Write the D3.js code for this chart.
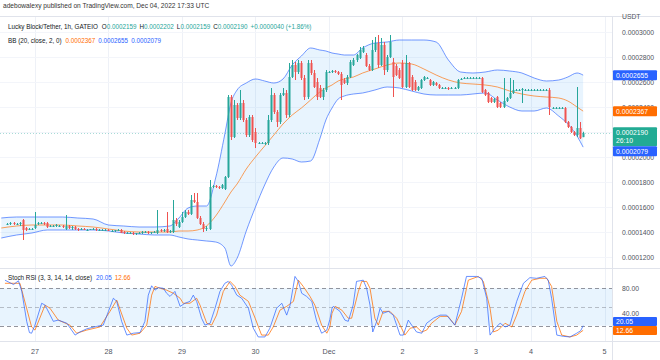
<!DOCTYPE html>
<html><head><meta charset="utf-8">
<script src="https://cdn.jsdelivr.net/npm/d3@7"></script>
<style>
html,body{margin:0;padding:0;background:#fff;}
svg{display:block;font-family:"Liberation Sans",Arial,sans-serif;}
</style></head><body>
<svg id="c" width="660" height="360"></svg>
<script>
// ---- DATA (prices in units of 1e-7 USDT) ----
const open = [
1464,1464,1472,1464,1464,1496,1432,1424,1424,1432,
1464,1472,1472,1472,1448,1448,1448,1448,1448,1424,
1448,1432,1440,1424,1424,1424,1416,1416,1424,1424,
1416,1416,1416,1416,1408,1408,1416,1416,1400,1392,
1392,1392,1384,1392,1392,1400,1400,1392,1400,1392,
1416,1408,1424,1400,1400,1496,1440,1480,1520,1560,
1544,1656,1640,1512,1464,1424,1424,1760,1768,1760,
1752,1744,1840,2480,2160,2416,2312,2432,2296,2176,
2320,2200,2112,2112,2112,2112,2296,2496,2360,2280,
2496,2512,2336,2640,2736,2680,2752,2632,2480,2752,
2672,2600,2552,2480,2536,2680,2680,2688,2680,2664,
2616,2592,2640,2736,2776,2792,2840,2816,2728,2696,
2856,2912,2736,2896,2696,2800,2760,2728,2696,2752,
2560,2752,2640,2600,2536,2552,2616,2632,2616,2576,
2592,2576,2552,2552,2552,2552,2552,2552,2624,2632,
2632,2632,2632,2632,2632,2632,2536,2512,2472,2440,
2480,2432,2400,2448,2472,2512,2536,2536,2536,2536,
2536,2536,2536,2536,2536,2536,2536,2536,2392,2392,
2392,2392,2392,2280,2240,2200,2176,2232,2159];
const high = [
1472,1480,1480,1472,1480,1504,1440,1432,1432,1560,
1480,1480,1480,1480,1456,1456,1464,1456,1456,1536,
1456,1448,1448,1432,1432,1432,1424,1424,1432,1432,
1424,1424,1424,1424,1416,1416,1424,1424,1408,1400,
1400,1400,1392,1400,1408,1408,1408,1400,1408,1576,
1424,1424,1560,1416,1656,1512,1496,1560,1576,1576,
1696,1712,1712,1528,1480,1448,1816,1776,1776,1768,
1784,1848,2496,2496,2456,2432,2536,2456,2312,2336,
2336,2232,2120,2120,2120,2336,2552,2512,2376,2512,
2552,2536,2752,2776,2760,2776,2768,2656,2776,2776,
2696,2632,2576,2552,2696,2688,2696,2696,2688,2680,
2632,2656,2776,2792,2824,2880,2888,2832,2744,2936,
2960,2976,2952,2920,2816,2976,2792,2744,2712,2776,
2816,2760,2656,2616,2568,2624,2648,2640,2624,2608,
2600,2584,2560,2560,2560,2560,2560,2624,2632,2640,
2640,2640,2640,2640,2640,2640,2544,2520,2480,2472,
2488,2440,2632,2480,2632,2616,2544,2544,2552,2544,
2544,2544,2544,2544,2544,2544,2544,2552,2400,2400,
2400,2400,2400,2288,2248,2208,2560,2280,2202];
const low = [
1456,1456,1456,1456,1448,1336,1408,1416,1416,1424,
1456,1464,1456,1432,1440,1440,1440,1440,1432,1416,
1424,1416,1416,1408,1416,1416,1408,1416,1416,1408,
1408,1416,1408,1408,1400,1400,1408,1392,1384,1384,
1384,1376,1376,1384,1384,1392,1384,1384,1392,1384,
1400,1400,1392,1392,1392,1448,1432,1472,1512,1536,
1536,1632,1504,1456,1400,1408,1416,1752,1752,1744,
1744,1736,1832,2136,2152,2296,2296,2280,2160,2160,
2120,2072,2104,2104,2096,2096,2280,2344,2240,2264,
2488,2312,2320,2632,2616,2664,2616,2456,2464,2656,
2552,2456,2472,2456,2520,2672,2672,2672,2656,2456,
2584,2576,2632,2728,2760,2784,2832,2720,2688,2688,
2840,2712,2728,2656,2680,2792,2480,2648,2624,2552,
2552,2552,2528,2528,2528,2544,2608,2624,2568,2568,
2568,2544,2544,2544,2536,2544,2544,2544,2616,2624,
2624,2624,2624,2624,2624,2512,2488,2432,2432,2432,
2392,2392,2392,2440,2464,2504,2528,2528,2432,2528,
2528,2528,2528,2528,2528,2528,2528,2336,2384,2384,
2384,2384,2272,2232,2192,2168,2160,2144,2159];
const close = [
1464,1472,1464,1464,1472,1416,1416,1424,1424,1456,
1472,1472,1464,1440,1448,1448,1456,1448,1440,1448,
1432,1440,1424,1416,1424,1416,1416,1424,1424,1416,
1416,1416,1416,1408,1408,1416,1416,1392,1392,1392,
1392,1384,1392,1392,1400,1400,1392,1400,1400,1416,
1408,1416,1400,1408,1496,1464,1480,1520,1560,1544,
1656,1640,1512,1464,1424,1432,1760,1768,1760,1752,
1776,1840,2480,2160,2416,2312,2432,2296,2176,2320,
2136,2112,2112,2112,2112,2296,2496,2360,2280,2496,
2512,2336,2640,2736,2680,2752,2632,2480,2752,2672,
2560,2480,2480,2536,2680,2680,2688,2680,2664,2576,
2592,2640,2760,2776,2816,2856,2872,2728,2696,2856,
2912,2736,2896,2696,2800,2920,2640,2656,2632,2560,
2752,2560,2536,2536,2560,2616,2640,2632,2576,2600,
2576,2552,2552,2552,2544,2552,2552,2616,2624,2632,
2632,2632,2632,2632,2632,2520,2496,2440,2440,2464,
2400,2400,2448,2472,2512,2536,2536,2536,2544,2536,
2536,2536,2536,2536,2536,2536,2536,2400,2392,2392,
2392,2392,2280,2240,2200,2176,2232,2150,2190];

// Bollinger Bands (20, close, 2) read at sampled candle indices
const bbIdx   = [-2,3,8,13,18,23,28,33,38,43,48,53,56,59,62,65,68,71,73,75,78,81,84,87,90,93,96,99,102,104,106,108,110,113,116,120,124,128,132,136,140,144,148,152,156,160,164,168,172,176,180,183,186,188];
const bbUpper = [1512,1520,1520,1520,1520,1512,1504,1456,1448,1440,1440,1448,1512,1592,1608,1608,1832,2184,2432,2536,2592,2624,2608,2592,2624,2736,2808,2872,2856,2848,2832,2824,2816,2816,2872,2912,2920,2936,2936,2936,2920,2776,2680,2672,2680,2696,2688,2672,2632,2608,2616,2640,2672,2655];
const bbBasis = [1432,1448,1456,1456,1456,1448,1440,1424,1408,1400,1400,1400,1408,1408,1416,1448,1528,1640,1720,1784,1904,2000,2088,2176,2264,2336,2392,2456,2520,2552,2576,2608,2624,2640,2672,2704,2736,2752,2744,2704,2656,2616,2592,2584,2576,2560,2528,2504,2488,2480,2472,2448,2400,2367];
const bbLower = [1352,1376,1392,1416,1416,1416,1416,1408,1392,1384,1376,1376,1360,1344,1336,1328,1320,1272,1128,1190,1408,1600,1776,1920,1992,1984,1960,1968,2144,2296,2392,2464,2488,2504,2512,2536,2560,2552,2528,2504,2496,2496,2496,2504,2512,2456,2400,2368,2368,2392,2328,2264,2168,2079];

// Stoch RSI (3,3,14,14) %K and %D read at sampled candle positions
const kIdx = [-0.8,2,3.6,4.7,6.3,7.2,7.9,9,11.2,12.3,15,16.6,19.4,22.1,23.7,25.9,29.2,31.3,33,34.6,35.7,37.3,39,41.1,43.3,44.9,46,47.1,48.2,49.3,50.9,52,53.1,54.7,56.4,58,59.6,60.7,61.8,63.4,64.5,66.2,67.8,69.4,71,72.1,73.2,74.9,76.5,78.7,80.3,81.9,84.1,85.7,87.9,89.6,91.2,92.3,93.9,95,96.1,97.7,99.4,101,102.6,104.3,105.3,106,106.4,108.6,110.2,111.3,112.9,114,116.2,117.3,118.4,119.3,120.6,121.7,122.7,124.4,126,127.1,128.2,129.3,130.9,132,133.6,135.3,136.9,139.1,141.3,143.4,146.1,148.3,149.9,153.2,154.9,156.5,157.6,159.2,160.9,162.5,164.1,166.3,168.5,170.6,172.8,175.5,176.6,177.7,179.4,181.5,183.7,185.9,187.2,188];
const kVal = [93,86,92,75,27,9,8,21,56,53,27,29,24,5,10,15,19,21,43,64,59,27,5,8,9,27,69,84,77,81,80,72,67,75,51,56,59,69,59,32,21,24,48,75,88,91,85,69,64,48,16,2,2,16,48,56,37,53,99,91,72,67,59,27,8,13,30,48,51,43,29,27,53,91,93,80,53,10,27,48,40,43,37,21,5,5,29,21,10,8,24,32,37,37,21,64,99,99,96,64,5,16,24,18,21,59,88,97,96,99,93,64,5,3,2,8,12,20.05];
const dIdx = [-0.8,4.1,7.9,9,12.3,13.9,16.6,20.4,22.6,25.9,30.2,33.5,35.7,39,40.6,43.3,45.5,47.1,48.2,49.8,52,54.2,56.4,57.4,59.6,61.8,62.9,65.1,66.7,68.3,70.5,72.7,74.3,75.9,78.7,80.9,83,85.2,86.8,89,91.2,93.4,95,96.6,98.8,100.4,102.6,104.3,105.3,106,107,109.2,111.3,112.4,114.6,115.7,117.3,118.4,120,121.1,122.7,124.9,127.1,128.7,129.8,131.5,133.6,135.3,136.9,138.5,141.3,143.9,146.1,148.3,150.5,153.8,155.4,157.6,158.7,160.3,162.5,164.7,166.3,169,171.2,173.9,176.1,177.7,179.4,181,183.7,185.9,188];
const dVal = [88,88,18,13,53,48,29,21,8,13,18,43,61,16,5,8,21,69,83,80,77,72,64,56,56,64,53,24,21,37,75,91,83,69,59,32,5,5,18,45,51,59,93,83,67,53,21,8,18,40,51,45,32,32,75,91,91,80,32,21,43,43,32,16,5,16,18,10,13,24,35,35,21,43,93,99,91,48,10,13,24,18,37,75,93,96,96,83,27,5,2,5,12.66];

const dayTicks  = [9,33,57,81,105,129,153,171,195];
const dayLabels = ["27","28","29","30","Dec","2","3","4","5"];
const priceTicks = [1200,1400,1600,1800,2000,2200,2400,2600,2800,3000];
const stochTicks = [40,80];
const stochLevels = [80,50,20];

// ---- DRAW ----
const svg = d3.select("#c");
const plotR = 612, mainTop = 16, mainBot = 268, stochBot = 341;
const x = d3.scaleLinear().domain([0,188]).range([7.4, 7.4 + 188*3.0625]);
const y = d3.scaleLinear().domain([1112,3112]).range([268,18]);
const ys = d3.scaleLinear().domain([0,100]).range([338.2,275.8]);
const fmtP = v => (v/1e7).toFixed(7);
const UP = "#26a69a", DN = "#ef5350", BLUE = "#2962ff", ORANGE = "#ff6d00";

// grid
svg.append("g").selectAll("line").data(dayTicks).join("line")
  .attr("x1", d => Math.round(x(d))+0.5).attr("x2", d => Math.round(x(d))+0.5)
  .attr("y1", mainTop).attr("y2", stochBot).attr("stroke", "#eef1f7");
svg.append("g").selectAll("line").data(priceTicks).join("line")
  .attr("x1", 0).attr("x2", plotR).attr("y1", d => Math.round(y(d))+0.5).attr("y2", d => Math.round(y(d))+0.5)
  .attr("stroke", "#f3f5fa");

// main pane clip
svg.append("clipPath").attr("id","mc").append("rect").attr("x",0).attr("y",mainTop).attr("width",plotR).attr("height",mainBot-mainTop);
const main = svg.append("g").attr("clip-path","url(#mc)");

const bb = bbIdx.map((d,i)=>({i:d,u:bbUpper[i],m:bbBasis[i],l:bbLower[i]}));
main.append("path").datum(bb)
  .attr("d", d3.area().x(d=>x(d.i)).y0(d=>y(d.l)).y1(d=>y(d.u)).curve(d3.curveMonotoneX))
  .attr("fill","rgba(33,150,243,0.10)");
const lineOf = key => d3.line().x(d=>x(d.i)).y(d=>y(d[key])).curve(d3.curveMonotoneX);
main.append("path").datum(bb).attr("d", lineOf("u")).attr("fill","none").attr("stroke",BLUE).attr("stroke-opacity",0.65).attr("stroke-width",1);
main.append("path").datum(bb).attr("d", lineOf("l")).attr("fill","none").attr("stroke",BLUE).attr("stroke-opacity",0.65).attr("stroke-width",1);
main.append("path").datum(bb).attr("d", lineOf("m")).attr("fill","none").attr("stroke",ORANGE).attr("stroke-opacity",0.65).attr("stroke-width",1);

// current price line
const last = close.length-1;
main.append("line").attr("x1",0).attr("x2",plotR).attr("y1",Math.round(y(close[last]))+0.5).attr("y2",Math.round(y(close[last]))+0.5)
  .attr("stroke",UP).attr("stroke-opacity",0.4).attr("stroke-dasharray","1,2");

// candles
const cd = open.map((o,i)=>({i,o,h:high[i],l:low[i],c:close[i]}));
const cg = main.append("g");
cg.selectAll("line").data(cd).join("line")
  .attr("x1", d=>Math.round(x(d.i))+0.5).attr("x2", d=>Math.round(x(d.i))+0.5)
  .attr("y1", d=>y(d.h)).attr("y2", d=>y(d.l))
  .attr("stroke", d=>d.c>=d.o?UP:DN).attr("stroke-width",1);
cg.selectAll("rect").data(cd).join("rect")
  .attr("x", d=>Math.round(x(d.i))-0.5).attr("width",2)
  .attr("y", d=>y(Math.max(d.o,d.c)))
  .attr("height", d=>Math.max(1, Math.abs(y(d.o)-y(d.c))))
  .attr("fill", d=>d.c>=d.o?UP:DN);

// stoch pane
svg.append("rect").attr("x",0).attr("width",plotR).attr("y",ys(80)).attr("height",ys(20)-ys(80)).attr("fill","rgba(33,150,243,0.10)");
svg.append("g").selectAll("line").data(stochLevels).join("line")
  .attr("x1",0).attr("x2",plotR).attr("y1",d=>Math.round(ys(d))+0.5).attr("y2",d=>Math.round(ys(d))+0.5)
  .attr("stroke","#787b86").attr("stroke-opacity",d=>d===50?0.45:0.8).attr("stroke-dasharray","4,3");
svg.append("clipPath").attr("id","sc").append("rect").attr("x",0).attr("y",mainBot).attr("width",plotR).attr("height",stochBot-mainBot);
const sg = svg.append("g").attr("clip-path","url(#sc)");
const kd = kIdx.map((d,i)=>({i:d,v:kVal[i]}));
const dd = dIdx.map((d,i)=>({i:d,v:dVal[i]}));
const sl = d3.line().x(d=>x(d.i)).y(d=>ys(d.v));
sg.append("path").datum(dd).attr("d",sl).attr("fill","none").attr("stroke",ORANGE).attr("stroke-opacity",0.75).attr("stroke-width",1);
sg.append("path").datum(kd).attr("d",sl).attr("fill","none").attr("stroke",BLUE).attr("stroke-opacity",0.7).attr("stroke-width",1);

// separators
svg.append("line").attr("x1",0).attr("x2",660).attr("y1",mainBot+0.5).attr("y2",mainBot+0.5).attr("stroke","#e0e3eb");
svg.append("line").attr("x1",0).attr("x2",660).attr("y1",stochBot+0.5).attr("y2",stochBot+0.5).attr("stroke","#e0e3eb");
svg.append("line").attr("x1",plotR+0.5).attr("x2",plotR+0.5).attr("y1",mainTop).attr("y2",360).attr("stroke","#e0e3eb");
svg.append("line").attr("x1",0).attr("x2",660).attr("y1",mainTop+0.5).attr("y2",mainTop+0.5).attr("stroke","#e0e3eb");

// axes text
const axc = "#50535e";
svg.append("text").attr("x",622).attr("y",19).attr("font-size",6.8).attr("fill",axc).text("USDT");
svg.append("g").selectAll("text").data(priceTicks).join("text")
  .attr("x",622).attr("y",d=>y(d)+2.5).attr("font-size",6.8).attr("fill",axc).text(fmtP);
svg.append("g").selectAll("text").data(stochTicks).join("text")
  .attr("x",622).attr("y",d=>ys(d)+2.5).attr("font-size",6.8).attr("fill",axc).text(d=>d.toFixed(2));
svg.append("g").selectAll("text").data(dayTicks).join("text")
  .attr("x",d=>x(d)).attr("y",354).attr("text-anchor","middle").attr("font-size",7.2).attr("fill",axc)
  .text((d,i)=>dayLabels[i]);

// value boxes
function box(cy, h, fill, lines){
  const g = svg.append("g");
  g.append("rect").attr("x",plotR+1).attr("y",cy-h/2).attr("width",44).attr("height",h).attr("rx",1).attr("fill",fill);
  lines.forEach((t,k)=>g.append("text").attr("x",plotR+4).attr("y",cy-h/2+h/2+2.4+k*8.5 - (lines.length-1)*4.25)
    .attr("font-size",6.8).attr("fill","#fff").text(t));
}
box(y(bbUpper[bbUpper.length-1]), 10, BLUE, [fmtP(bbUpper[bbUpper.length-1])]);
box(y(bbBasis[bbBasis.length-1]), 10, ORANGE, [fmtP(bbBasis[bbBasis.length-1])]);
box(y(close[last])+3.5, 19, "#22ab94", [fmtP(close[last]), "26:10"]);
box(y(close[last])+3.5+9.5+5, 10, BLUE, [fmtP(bbLower[bbLower.length-1])]);
box(321.5, 9, BLUE, [kVal[kVal.length-1].toFixed(2)]);
box(330.5, 9, ORANGE, [dVal[dVal.length-1].toFixed(2)]);

// header & legends
const tc = "#131722";
svg.append("text").attr("x",3).attr("y",8).attr("font-size",6.6).attr("fill","#333").text("adebowalexy published on TradingView.com, Dec 04, 2022 17:33 UTC");
const l1 = svg.append("text").attr("x",8).attr("y",29).attr("font-size",6.3).attr("fill",tc);
l1.append("tspan").text("Lucky Block/Tether, 1h, GATEIO");
[["O",open[last]],["H",high[last]],["L",low[last]],["C",close[last]]].forEach(([k,v],j)=>{
  l1.append("tspan").attr("dx",j===0?4:3).text(k);
  l1.append("tspan").attr("fill",UP).text(fmtP(v));
});
l1.append("tspan").attr("dx",3).attr("fill",UP).text("+" + fmtP(close[last]-close[last-1]) + " (+1.86%)");
const l2 = svg.append("text").attr("x",8).attr("y",43).attr("font-size",6.3).attr("fill",tc);
l2.append("tspan").text("BB (20, close, 2, 0)");
l2.append("tspan").attr("dx",4).attr("fill",ORANGE).text(fmtP(bbBasis[bbBasis.length-1]));
l2.append("tspan").attr("dx",3).attr("fill",BLUE).text(fmtP(bbUpper[bbUpper.length-1]));
l2.append("tspan").attr("dx",3).attr("fill",BLUE).text(fmtP(bbLower[bbLower.length-1]));
const l3 = svg.append("text").attr("x",8).attr("y",280).attr("font-size",6.3).attr("fill",tc);
l3.append("tspan").text("Stoch RSI (3, 3, 14, 14, close)");
l3.append("tspan").attr("dx",4).attr("fill",BLUE).text(kVal[kVal.length-1].toFixed(2));
l3.append("tspan").attr("dx",3).attr("fill",ORANGE).text(dVal[dVal.length-1].toFixed(2));
</script>
</body></html>
